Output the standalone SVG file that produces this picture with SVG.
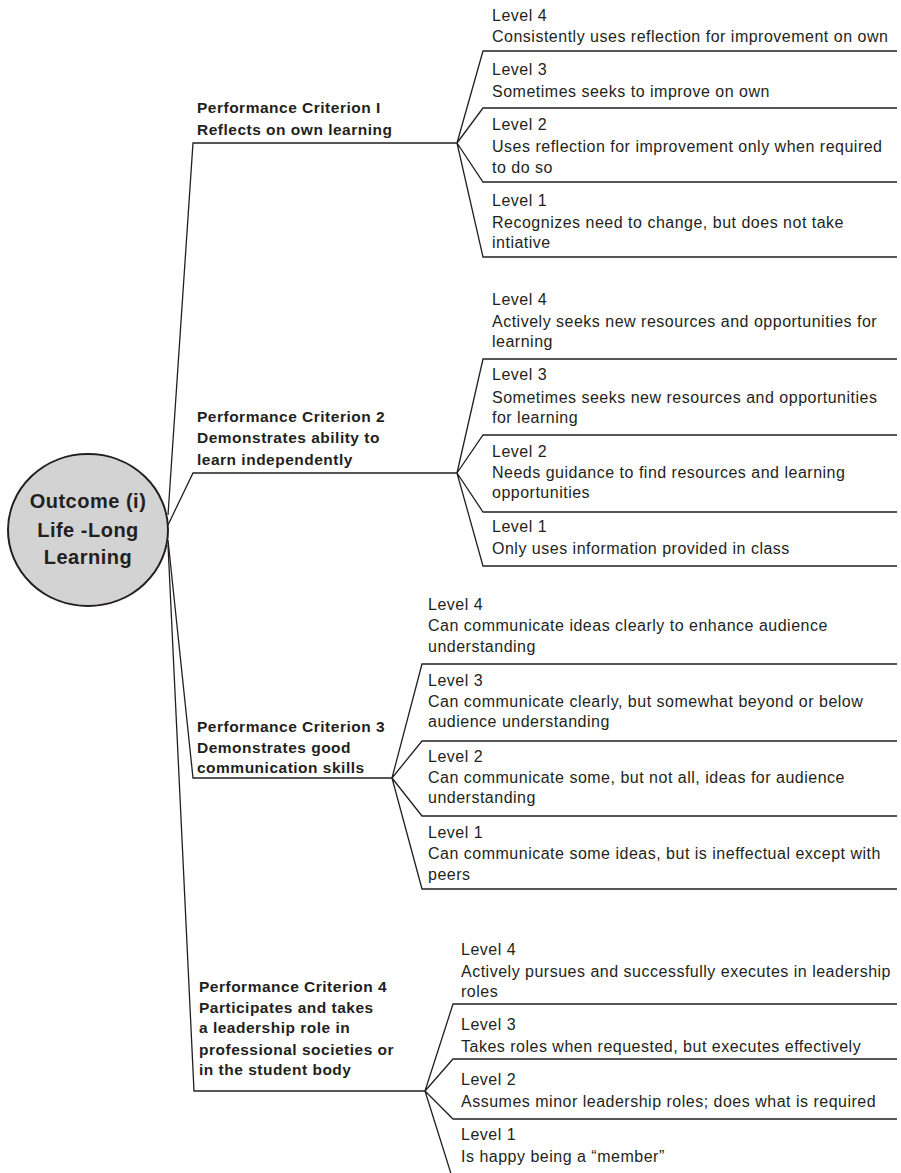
<svg xmlns="http://www.w3.org/2000/svg" width="901" height="1173" viewBox="0 0 901 1173">
<style>
.ln{fill:none;stroke:#231f20;stroke-width:1.3}
.lv{font-family:"Liberation Sans",Arial,sans-serif;font-size:16px;letter-spacing:0.5px;fill:#231f20}
.cr{font-family:"Liberation Sans",Arial,sans-serif;font-size:15.5px;letter-spacing:0.5px;font-weight:bold;fill:#231f20}
.rt{font-family:"Liberation Sans",Arial,sans-serif;font-size:20px;letter-spacing:0.5px;font-weight:bold;fill:#231f20;text-anchor:middle}
</style>
<rect width="901" height="1173" fill="#fff"/>
<g id="connectors">
<polyline class="ln" points="168,515 193,143 457,143"/>
<polyline class="ln" points="168,525 193,473 457,473"/>
<polyline class="ln" points="168,540 193,778 392,778"/>
<polyline class="ln" points="168,545 194,1091 425,1091"/>
<polyline class="ln" points="897,51 483,51 457,143 483,108 897,108"/>
<polyline class="ln" points="897,182 483,182 457,143 483,257 897,257"/>
<polyline class="ln" points="897,359 483,359 457,473 483,435 897,435"/>
<polyline class="ln" points="897,512 483,512 457,473 483,566 897,566"/>
<polyline class="ln" points="897,664 422,664 392,778 422,741 897,741"/>
<polyline class="ln" points="897,816 422,816 392,778 422,889 897,889"/>
<polyline class="ln" points="897,1004 453,1004 425,1091 453,1059 897,1059"/>
<polyline class="ln" points="897,1119 453,1119 425,1091 453,1180 897,1180"/>
</g>
<g id="root">
<ellipse cx="88" cy="530" rx="80" ry="76" fill="#d3d3d3" stroke="#231f20" stroke-width="2"/>
<text class="rt" x="88" y="508">Outcome (i)</text>
<text class="rt" x="88" y="537">Life -Long</text>
<text class="rt" x="88" y="564">Learning</text>
</g>
<g id="criterion1">
<text class="cr" x="197" y="113">Performance Criterion I</text>
<text class="cr" x="197" y="135">Reflects on own learning</text>
</g>
<g id="criterion2">
<text class="cr" x="197" y="422">Performance Criterion 2</text>
<text class="cr" x="197" y="443">Demonstrates ability to</text>
<text class="cr" x="197" y="465">learn independently</text>
</g>
<g id="criterion3">
<text class="cr" x="197" y="732">Performance Criterion 3</text>
<text class="cr" x="197" y="753">Demonstrates good</text>
<text class="cr" x="197" y="773">communication skills</text>
</g>
<g id="criterion4">
<text class="cr" x="199" y="992">Performance Criterion 4</text>
<text class="cr" x="199" y="1013">Participates and takes</text>
<text class="cr" x="199" y="1033">a leadership role in</text>
<text class="cr" x="199" y="1055">professional societies or</text>
<text class="cr" x="199" y="1075">in the student body</text>
</g>
<g id="c1-l4"><text class="lv" x="492" y="21">Level 4</text><text class="lv" x="492" y="42">Consistently uses reflection for improvement on own</text></g>
<g id="c1-l3"><text class="lv" x="492" y="75">Level 3</text><text class="lv" x="492" y="97">Sometimes seeks to improve on own</text></g>
<g id="c1-l2"><text class="lv" x="492" y="130">Level 2</text><text class="lv" x="492" y="152">Uses reflection for improvement only when required</text><text class="lv" x="492" y="173">to do so</text></g>
<g id="c1-l1"><text class="lv" x="492" y="206">Level 1</text><text class="lv" x="492" y="228">Recognizes need to change, but does not take</text><text class="lv" x="492" y="248">intiative</text></g>
<g id="c2-l4"><text class="lv" x="492" y="305">Level 4</text><text class="lv" x="492" y="327">Actively seeks new resources and opportunities for</text><text class="lv" x="492" y="347">learning</text></g>
<g id="c2-l3"><text class="lv" x="492" y="380">Level 3</text><text class="lv" x="492" y="403">Sometimes seeks new resources and opportunities</text><text class="lv" x="492" y="423">for learning</text></g>
<g id="c2-l2"><text class="lv" x="492" y="457">Level 2</text><text class="lv" x="492" y="478">Needs guidance to find resources and learning</text><text class="lv" x="492" y="498">opportunities</text></g>
<g id="c2-l1"><text class="lv" x="492" y="532">Level 1</text><text class="lv" x="492" y="554">Only uses information provided in class</text></g>
<g id="c3-l4"><text class="lv" x="428" y="610">Level 4</text><text class="lv" x="428" y="631">Can communicate ideas clearly to enhance audience</text><text class="lv" x="428" y="652">understanding</text></g>
<g id="c3-l3"><text class="lv" x="428" y="686">Level 3</text><text class="lv" x="428" y="707">Can communicate clearly, but somewhat beyond or below</text><text class="lv" x="428" y="727">audience understanding</text></g>
<g id="c3-l2"><text class="lv" x="428" y="762">Level 2</text><text class="lv" x="428" y="783">Can communicate some, but not all, ideas for audience</text><text class="lv" x="428" y="803">understanding</text></g>
<g id="c3-l1"><text class="lv" x="428" y="838">Level 1</text><text class="lv" x="428" y="859">Can communicate some ideas, but is ineffectual except with</text><text class="lv" x="428" y="880">peers</text></g>
<g id="c4-l4"><text class="lv" x="461" y="955">Level 4</text><text class="lv" x="461" y="977">Actively pursues and successfully executes in leadership</text><text class="lv" x="461" y="997">roles</text></g>
<g id="c4-l3"><text class="lv" x="461" y="1030">Level 3</text><text class="lv" x="461" y="1052">Takes roles when requested, but executes effectively</text></g>
<g id="c4-l2"><text class="lv" x="461" y="1085">Level 2</text><text class="lv" x="461" y="1107">Assumes minor leadership roles; does what is required</text></g>
<g id="c4-l1"><text class="lv" x="461" y="1140">Level 1</text><text class="lv" x="461" y="1162">Is happy being a “member”</text></g>
</svg>
